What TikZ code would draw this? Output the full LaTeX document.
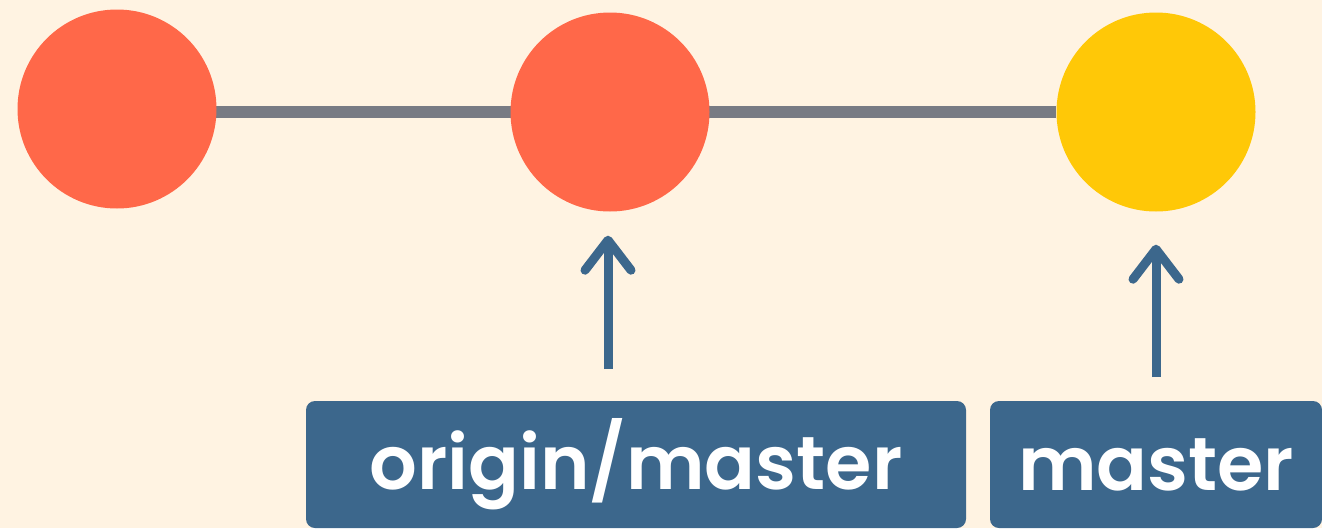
\documentclass[tikz,border=0pt]{standalone}
\usepackage{fontspec}
\setmainfont{Poppins}[UprightFont=* SemiBold]
\usepackage{tikz}
\usetikzlibrary{positioning,arrows.meta,calc,backgrounds}
\definecolor{bgcream}{RGB}{255,243,226}
\definecolor{commitred}{RGB}{255,104,73}
\definecolor{commityellow}{RGB}{255,200,7}
\definecolor{edgegray}{RGB}{120,123,132}
\definecolor{refblue}{RGB}{60,103,140}
\tikzset{
  commit/.style = {circle, minimum size=199pt, inner sep=0pt},
  refbox/.style = {rounded corners=9pt, fill=refblue, text=white, font=\fontsize{75}{78}\selectfont,
                   minimum height=127pt, inner sep=0pt},
  edge/.style   = {line width=11.5pt, draw=edgegray},
  ptr/.style    = {-{Straight Barb[length=30pt, width=46pt, round]}, line width=9pt, draw=refblue},
}

\begin{document}
\begin{tikzpicture}[x=1pt, y=-1pt]
  \useasboundingbox (0,0) rectangle (1322,528);
  \node[commit, fill=commitred] (c1) at (117,109) {};
  \node[commit, fill=commitred] (c2) at (610,112) {};
  \node[commit, fill=commityellow] (c3) at (1156,112) {};
  \node[refbox, minimum width=660pt] (origin) at (636,464.5) {origin/master};
  \node[refbox, minimum width=332pt] (local) at (1156,464.5) {master};
  \coordinate (p1) at (608,369);
  \coordinate (p2) at (1156,377);
  \draw[ptr] (p1) -- ([yshift=-24pt]c2.south -| p1);
  \draw[ptr] (p2) -- ([yshift=-33pt]c3.south);
  \begin{scope}[on background layer]
    \fill[bgcream] (0,0) rectangle (1322,528);
    \draw[edge] (c1 |- c2) -- (c3);
  \end{scope}
\end{tikzpicture}
\end{document}
